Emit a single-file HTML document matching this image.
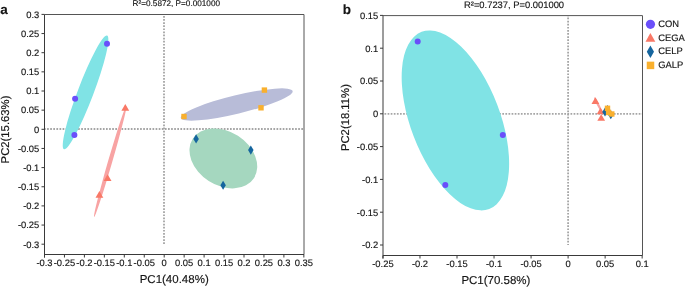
<!DOCTYPE html>
<html><head><meta charset="utf-8"><style>
html,body{margin:0;padding:0;background:#fff;width:685px;height:287px;overflow:hidden}
svg{display:block;will-change:transform}
text{font-family:"Liberation Sans",sans-serif;text-rendering:geometricPrecision;stroke:#151515;stroke-width:0.15px}
</style></head><body>
<svg width="685" height="287" viewBox="0 0 685 287" font-family="Liberation Sans, sans-serif" fill="#151515">
<rect width="685" height="287" fill="#fff"/>
<line x1="45.0" y1="129.0" x2="304.0" y2="129.0" stroke="#a5a5a5" stroke-width="1.8" stroke-dasharray="1.7,1.4" stroke-dashoffset="1.0"/>
<line x1="164.0" y1="15.0" x2="164.0" y2="244.20" stroke="#a5a5a5" stroke-width="1.8" stroke-dasharray="1.7,1.4" stroke-dashoffset="2.1"/>
<ellipse cx="85.55" cy="92.45" rx="60.8" ry="7.9" transform="rotate(-69.2 85.55 92.45)" fill="#80e3e5"/>
<ellipse cx="110.2" cy="161.45" rx="57.8" ry="2.1" transform="rotate(-73.8 110.2 161.45)" fill="#f8a3a3"/>
<ellipse cx="236.7" cy="104.5" rx="57.5" ry="9.2" transform="rotate(-13.5 236.7 104.5)" fill="#b8bcd8"/>
<ellipse cx="223.35" cy="158.4" rx="36.4" ry="26.9" transform="rotate(32.9 223.35 158.4)" fill="#a5d7bf"/>
<circle cx="107" cy="43.7" r="3" fill="#6a4ffa"/>
<circle cx="75.1" cy="98.8" r="3" fill="#6a4ffa"/>
<circle cx="74.4" cy="135" r="3" fill="#6a4ffa"/>
<path d="M125.3,103.95 L129.20,110.65 L121.40,110.65Z" fill="#f97866"/>
<path d="M107.6,174.25 L111.50,180.95 L103.70,180.95Z" fill="#f97866"/>
<path d="M99.4,190.95 L103.30,197.65 L95.50,197.65Z" fill="#f97866"/>
<path d="M196.1,134.35 L198.85,138.9 L196.1,143.45 L193.35,138.9Z" fill="#15659e"/>
<path d="M250.8,145.55 L253.55,150.1 L250.8,154.65 L248.05,150.1Z" fill="#15659e"/>
<path d="M223.1,180.65 L225.85,185.2 L223.1,189.75 L220.35,185.2Z" fill="#15659e"/>
<rect x="261.70" y="87.40" width="5.4" height="5.4" fill="#f9b02e"/>
<rect x="258.30" y="105.10" width="5.4" height="5.4" fill="#f9b02e"/>
<rect x="181.30" y="113.80" width="5.4" height="5.4" fill="#f9b02e"/>
<path d="M44.5,14.5 H304.0 V254.5" fill="none" stroke="#555" stroke-width="1"/>
<path d="M44.5,14.5 V257.5 M44.5,254.5 H304.0" fill="none" stroke="#3a3a3a" stroke-width="1"/>
<line x1="41.5" y1="14.40" x2="44.5" y2="14.40" stroke="#3a3a3a" stroke-width="1"/>
<text x="39.3" y="17.70" text-anchor="end" font-size="9.4">0.3</text>
<line x1="41.5" y1="33.55" x2="44.5" y2="33.55" stroke="#3a3a3a" stroke-width="1"/>
<text x="39.3" y="36.85" text-anchor="end" font-size="9.4">0.25</text>
<line x1="41.5" y1="52.70" x2="44.5" y2="52.70" stroke="#3a3a3a" stroke-width="1"/>
<text x="39.3" y="56.00" text-anchor="end" font-size="9.4">0.2</text>
<line x1="41.5" y1="71.85" x2="44.5" y2="71.85" stroke="#3a3a3a" stroke-width="1"/>
<text x="39.3" y="75.15" text-anchor="end" font-size="9.4">0.15</text>
<line x1="41.5" y1="91.00" x2="44.5" y2="91.00" stroke="#3a3a3a" stroke-width="1"/>
<text x="39.3" y="94.30" text-anchor="end" font-size="9.4">0.1</text>
<line x1="41.5" y1="110.15" x2="44.5" y2="110.15" stroke="#3a3a3a" stroke-width="1"/>
<text x="39.3" y="113.45" text-anchor="end" font-size="9.4">0.05</text>
<line x1="41.5" y1="129.30" x2="44.5" y2="129.30" stroke="#3a3a3a" stroke-width="1"/>
<text x="39.3" y="132.60" text-anchor="end" font-size="9.4">0</text>
<line x1="41.5" y1="148.45" x2="44.5" y2="148.45" stroke="#3a3a3a" stroke-width="1"/>
<text x="39.3" y="151.75" text-anchor="end" font-size="9.4">-0.05</text>
<line x1="41.5" y1="167.60" x2="44.5" y2="167.60" stroke="#3a3a3a" stroke-width="1"/>
<text x="39.3" y="170.90" text-anchor="end" font-size="9.4">-0.1</text>
<line x1="41.5" y1="186.75" x2="44.5" y2="186.75" stroke="#3a3a3a" stroke-width="1"/>
<text x="39.3" y="190.05" text-anchor="end" font-size="9.4">-0.15</text>
<line x1="41.5" y1="205.90" x2="44.5" y2="205.90" stroke="#3a3a3a" stroke-width="1"/>
<text x="39.3" y="209.20" text-anchor="end" font-size="9.4">-0.2</text>
<line x1="41.5" y1="225.05" x2="44.5" y2="225.05" stroke="#3a3a3a" stroke-width="1"/>
<text x="39.3" y="228.35" text-anchor="end" font-size="9.4">-0.25</text>
<line x1="41.5" y1="244.20" x2="44.5" y2="244.20" stroke="#3a3a3a" stroke-width="1"/>
<text x="39.3" y="247.50" text-anchor="end" font-size="9.4">-0.3</text>
<line x1="44.50" y1="254.5" x2="44.50" y2="257.5" stroke="#3a3a3a" stroke-width="1"/>
<text x="44.50" y="266" text-anchor="middle" font-size="9.4">-0.3</text>
<line x1="64.45" y1="254.5" x2="64.45" y2="257.5" stroke="#3a3a3a" stroke-width="1"/>
<text x="64.45" y="266" text-anchor="middle" font-size="9.4">-0.25</text>
<line x1="84.40" y1="254.5" x2="84.40" y2="257.5" stroke="#3a3a3a" stroke-width="1"/>
<text x="84.40" y="266" text-anchor="middle" font-size="9.4">-0.2</text>
<line x1="104.35" y1="254.5" x2="104.35" y2="257.5" stroke="#3a3a3a" stroke-width="1"/>
<text x="104.35" y="266" text-anchor="middle" font-size="9.4">-0.15</text>
<line x1="124.30" y1="254.5" x2="124.30" y2="257.5" stroke="#3a3a3a" stroke-width="1"/>
<text x="124.30" y="266" text-anchor="middle" font-size="9.4">-0.1</text>
<line x1="144.25" y1="254.5" x2="144.25" y2="257.5" stroke="#3a3a3a" stroke-width="1"/>
<text x="144.25" y="266" text-anchor="middle" font-size="9.4">-0.05</text>
<line x1="164.20" y1="254.5" x2="164.20" y2="257.5" stroke="#3a3a3a" stroke-width="1"/>
<text x="164.20" y="266" text-anchor="middle" font-size="9.4">0</text>
<line x1="184.15" y1="254.5" x2="184.15" y2="257.5" stroke="#3a3a3a" stroke-width="1"/>
<text x="184.15" y="266" text-anchor="middle" font-size="9.4">0.05</text>
<line x1="204.10" y1="254.5" x2="204.10" y2="257.5" stroke="#3a3a3a" stroke-width="1"/>
<text x="204.10" y="266" text-anchor="middle" font-size="9.4">0.1</text>
<line x1="224.05" y1="254.5" x2="224.05" y2="257.5" stroke="#3a3a3a" stroke-width="1"/>
<text x="224.05" y="266" text-anchor="middle" font-size="9.4">0.15</text>
<line x1="244.00" y1="254.5" x2="244.00" y2="257.5" stroke="#3a3a3a" stroke-width="1"/>
<text x="244.00" y="266" text-anchor="middle" font-size="9.4">0.2</text>
<line x1="263.95" y1="254.5" x2="263.95" y2="257.5" stroke="#3a3a3a" stroke-width="1"/>
<text x="263.95" y="266" text-anchor="middle" font-size="9.4">0.25</text>
<line x1="283.90" y1="254.5" x2="283.90" y2="257.5" stroke="#3a3a3a" stroke-width="1"/>
<text x="283.90" y="266" text-anchor="middle" font-size="9.4">0.3</text>
<line x1="303.85" y1="254.5" x2="303.85" y2="257.5" stroke="#3a3a3a" stroke-width="1"/>
<text x="303.85" y="266" text-anchor="middle" font-size="9.4">0.35</text>
<line x1="383.5" y1="113.9" x2="642.5" y2="113.9" stroke="#a5a5a5" stroke-width="1.8" stroke-dasharray="1.7,1.4" stroke-dashoffset="2.1"/>
<line x1="568.1" y1="16.1" x2="568.1" y2="245.00" stroke="#a5a5a5" stroke-width="1.8" stroke-dasharray="1.7,1.4" stroke-dashoffset="1.6"/>
<ellipse cx="455.4" cy="120.4" rx="94.8" ry="44.7" transform="rotate(69.1 455.4 120.4)" fill="#80e3e5"/>
<ellipse cx="598" cy="104.5" rx="8" ry="1.2" transform="rotate(63 598 104.5)" fill="#f8a3a3"/>
<circle cx="417.7" cy="41.4" r="3" fill="#6a4ffa"/>
<circle cx="502.8" cy="134.9" r="3" fill="#6a4ffa"/>
<circle cx="445.3" cy="185.1" r="3" fill="#6a4ffa"/>
<path d="M595.4,97.25 L599.30,103.95 L591.50,103.95Z" fill="#f97866"/>
<path d="M600.6,107.45 L604.50,114.15 L596.70,114.15Z" fill="#f97866"/>
<path d="M601.2,114.15 L605.10,120.85 L597.30,120.85Z" fill="#f97866"/>
<path d="M607.5,104.95 L610.25,109.5 L607.5,114.05 L604.75,109.5Z" fill="#15659e"/>
<path d="M605,107.45 L607.75,112 L605,116.55 L602.25,112Z" fill="#15659e"/>
<path d="M610.8,110.25 L613.55,114.8 L610.8,119.35 L608.05,114.8Z" fill="#15659e"/>
<rect x="604.80" y="105.60" width="5.4" height="5.4" fill="#f9b02e"/>
<rect x="605.90" y="109.80" width="5.4" height="5.4" fill="#f9b02e"/>
<rect x="609.10" y="111.30" width="5.4" height="5.4" fill="#f9b02e"/>
<path d="M383.0,15.6 H642.5 V255.5" fill="none" stroke="#555" stroke-width="1"/>
<path d="M383.0,15.6 V258.5 M383.0,255.5 H642.5" fill="none" stroke="#3a3a3a" stroke-width="1"/>
<line x1="380.0" y1="15.40" x2="383.0" y2="15.40" stroke="#3a3a3a" stroke-width="1"/>
<text x="378.2" y="18.70" text-anchor="end" font-size="9.4">0.15</text>
<line x1="380.0" y1="48.20" x2="383.0" y2="48.20" stroke="#3a3a3a" stroke-width="1"/>
<text x="378.2" y="51.50" text-anchor="end" font-size="9.4">0.1</text>
<line x1="380.0" y1="81.00" x2="383.0" y2="81.00" stroke="#3a3a3a" stroke-width="1"/>
<text x="378.2" y="84.30" text-anchor="end" font-size="9.4">0.05</text>
<line x1="380.0" y1="113.80" x2="383.0" y2="113.80" stroke="#3a3a3a" stroke-width="1"/>
<text x="378.2" y="117.10" text-anchor="end" font-size="9.4">0</text>
<line x1="380.0" y1="146.60" x2="383.0" y2="146.60" stroke="#3a3a3a" stroke-width="1"/>
<text x="378.2" y="149.90" text-anchor="end" font-size="9.4">-0.05</text>
<line x1="380.0" y1="179.40" x2="383.0" y2="179.40" stroke="#3a3a3a" stroke-width="1"/>
<text x="378.2" y="182.70" text-anchor="end" font-size="9.4">-0.1</text>
<line x1="380.0" y1="212.20" x2="383.0" y2="212.20" stroke="#3a3a3a" stroke-width="1"/>
<text x="378.2" y="215.50" text-anchor="end" font-size="9.4">-0.15</text>
<line x1="380.0" y1="245.00" x2="383.0" y2="245.00" stroke="#3a3a3a" stroke-width="1"/>
<text x="378.2" y="248.30" text-anchor="end" font-size="9.4">-0.2</text>
<line x1="382.95" y1="255.5" x2="382.95" y2="258.5" stroke="#3a3a3a" stroke-width="1"/>
<text x="382.95" y="266.8" text-anchor="middle" font-size="9.4">-0.25</text>
<line x1="419.98" y1="255.5" x2="419.98" y2="258.5" stroke="#3a3a3a" stroke-width="1"/>
<text x="419.98" y="266.8" text-anchor="middle" font-size="9.4">-0.2</text>
<line x1="457.01" y1="255.5" x2="457.01" y2="258.5" stroke="#3a3a3a" stroke-width="1"/>
<text x="457.01" y="266.8" text-anchor="middle" font-size="9.4">-0.15</text>
<line x1="494.04" y1="255.5" x2="494.04" y2="258.5" stroke="#3a3a3a" stroke-width="1"/>
<text x="494.04" y="266.8" text-anchor="middle" font-size="9.4">-0.1</text>
<line x1="531.07" y1="255.5" x2="531.07" y2="258.5" stroke="#3a3a3a" stroke-width="1"/>
<text x="531.07" y="266.8" text-anchor="middle" font-size="9.4">-0.05</text>
<line x1="568.10" y1="255.5" x2="568.10" y2="258.5" stroke="#3a3a3a" stroke-width="1"/>
<text x="568.10" y="266.8" text-anchor="middle" font-size="9.4">0</text>
<line x1="605.13" y1="255.5" x2="605.13" y2="258.5" stroke="#3a3a3a" stroke-width="1"/>
<text x="605.13" y="266.8" text-anchor="middle" font-size="9.4">0.05</text>
<line x1="642.16" y1="255.5" x2="642.16" y2="258.5" stroke="#3a3a3a" stroke-width="1"/>
<text x="642.16" y="266.8" text-anchor="middle" font-size="9.4">0.1</text>
<text x="132.6" y="6.1" font-size="8.2">R²=0.5872, P=0.001000</text>
<text x="464.0" y="7.9" font-size="9.4">R²=0.7237, P=0.001000</text>
<text x="174.2" y="283.3" text-anchor="middle" font-size="11.5">PC1(40.48%)</text>
<text x="495.9" y="283.8" text-anchor="middle" font-size="11.5">PC1(70.58%)</text>
<text transform="translate(8.9 129.5) rotate(-90)" text-anchor="middle" font-size="11.3">PC2(15.63%)</text>
<text transform="translate(348.9 117.6) rotate(-90)" text-anchor="middle" font-size="11.3">PC2(18.11%)</text>
<text x="0.3" y="13.6" font-size="13.5" font-weight="bold">a</text>
<text x="342.8" y="13.6" font-size="13.5" font-weight="bold">b</text>
<circle cx="650.45" cy="24.35" r="4.6" fill="#6a4ffa"/>
<path d="M650.4,33.10 L655.30,41.80 L645.50,41.80Z" fill="#f97866"/>
<path d="M650.4,45.55 L654.00,51.8 L650.4,58.05 L646.80,51.8Z" fill="#15659e"/>
<rect x="646.75" y="61.65" width="7.5" height="7.5" fill="#f9b02e"/>
<text x="658.2" y="26.70" font-size="9.4">CON</text>
<text x="658.2" y="40.55" font-size="9.4">CEGA</text>
<text x="658.2" y="54.40" font-size="9.4">CELP</text>
<text x="658.2" y="68.25" font-size="9.4">GALP</text>
</svg>
</body></html>
